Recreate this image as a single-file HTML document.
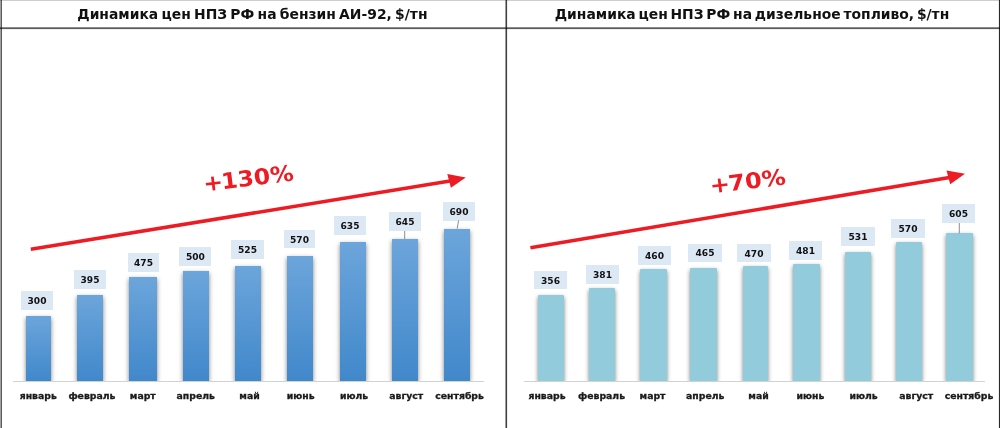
<!DOCTYPE html>
<html lang="ru"><head><meta charset="utf-8"><title>Динамика цен НПЗ РФ</title>
<style>
html,body{margin:0;padding:0;background:#fff;}
body{width:1000px;height:428px;position:relative;overflow:hidden;font-family:"DejaVu Sans","Liberation Sans",sans-serif;font-weight:bold;color:#1a1a1a;}
.ln{position:absolute;}
.fr{mix-blend-mode:multiply;}
.title{position:absolute;top:4.4px;height:20px;line-height:20px;font-size:13.9px;word-spacing:-1.6px;text-align:center;white-space:nowrap;color:#111;}
.bar{position:absolute;box-shadow:0 2px 4.5px rgba(0,0,0,.5);}
.bl{background:linear-gradient(#6ca5db,#4188cb);}
.br{background:#92ccdc;border-radius:1px 1px 0 0;}
.lbl{position:absolute;background:#dce8f4;font-size:9.1px;text-align:center;white-space:nowrap;color:#111;}
.lbl span{display:inline-block;transform:scaleY(.92);transform-origin:50% 50%;}
.mon{position:absolute;top:388.5px;-webkit-text-stroke:.3px #1a1a1a;width:70px;height:14px;line-height:14px;font-size:9.3px;text-align:center;white-space:nowrap;color:#1a1a1a;}
.axis{position:absolute;height:1px;background:#d2d2d2;}
.pct{position:absolute;font-size:22px;color:#ed1c24;white-space:nowrap;line-height:1;transform-origin:50% 50%;}
svg{position:absolute;left:0;top:0;}
#stage{position:absolute;left:0;top:0;width:1000px;height:428px;will-change:transform;}
</style></head><body>
<div id="stage">

<div class="bar bl" style="left:25.6px;width:25.8px;top:315.5px;height:65.7px"></div>
<div class="bar bl" style="left:77px;width:26.0px;top:295px;height:86.2px"></div>
<div class="bar bl" style="left:129.2px;width:27.6px;top:277px;height:104.2px"></div>
<div class="bar bl" style="left:183.2px;width:26.0px;top:271.2px;height:110.0px"></div>
<div class="bar bl" style="left:235px;width:26.2px;top:265.5px;height:115.7px"></div>
<div class="bar bl" style="left:287.3px;width:25.7px;top:255.5px;height:125.7px"></div>
<div class="bar bl" style="left:340px;width:26.0px;top:242px;height:139.2px"></div>
<div class="bar bl" style="left:392px;width:25.9px;top:238.9px;height:142.3px"></div>
<div class="bar bl" style="left:444.3px;width:25.7px;top:228.8px;height:152.4px"></div>
<div class="lbl" style="left:21px;width:32px;top:291px;height:19px;line-height:21px"><span>300</span></div>
<div class="lbl" style="left:74px;width:32px;top:270px;height:19px;line-height:21px"><span>395</span></div>
<div class="lbl" style="left:128px;width:31px;top:253px;height:19px;line-height:21px"><span>475</span></div>
<div class="lbl" style="left:179.3px;width:32.2px;top:247px;height:18.5px;line-height:20px"><span>500</span></div>
<div class="lbl" style="left:231px;width:33px;top:240px;height:19px;line-height:21px"><span>525</span></div>
<div class="lbl" style="left:284px;width:31px;top:230px;height:18px;line-height:20px"><span>570</span></div>
<div class="lbl" style="left:334px;width:32px;top:216px;height:19px;line-height:21px"><span>635</span></div>
<div class="lbl" style="left:389px;width:32px;top:212px;height:19px;line-height:21px"><span>645</span></div>
<div class="lbl" style="left:443px;width:32px;top:202px;height:19px;line-height:21px"><span>690</span></div>
<div class="bar br" style="left:538.1px;width:26.2px;top:294.5px;height:86.7px"></div>
<div class="bar br" style="left:588.8px;width:26.2px;top:288px;height:93.2px"></div>
<div class="bar br" style="left:639.8px;width:27.0px;top:269.1px;height:112.1px"></div>
<div class="bar br" style="left:690.4px;width:26.6px;top:267.6px;height:113.6px"></div>
<div class="bar br" style="left:742.5px;width:25.1px;top:266.4px;height:114.8px"></div>
<div class="bar br" style="left:793px;width:26.6px;top:263.8px;height:117.4px"></div>
<div class="bar br" style="left:844.9px;width:25.9px;top:251.6px;height:129.6px"></div>
<div class="bar br" style="left:895.5px;width:26.5px;top:242.1px;height:139.1px"></div>
<div class="bar br" style="left:946px;width:27.2px;top:233.3px;height:147.9px"></div>
<div class="lbl" style="left:534px;width:33px;top:271px;height:18px;line-height:20px"><span>356</span></div>
<div class="lbl" style="left:586px;width:33px;top:265px;height:19px;line-height:21px"><span>381</span></div>
<div class="lbl" style="left:638px;width:33px;top:246px;height:19px;line-height:21px"><span>460</span></div>
<div class="lbl" style="left:688px;width:34px;top:244px;height:17.5px;line-height:19px"><span>465</span></div>
<div class="lbl" style="left:737px;width:34px;top:244px;height:18px;line-height:20px"><span>470</span></div>
<div class="lbl" style="left:789px;width:33px;top:241px;height:19px;line-height:21px"><span>481</span></div>
<div class="lbl" style="left:841px;width:34px;top:227px;height:19px;line-height:21px"><span>531</span></div>
<div class="lbl" style="left:891px;width:34px;top:219px;height:19px;line-height:21px"><span>570</span></div>
<div class="lbl" style="left:942px;width:33px;top:204px;height:19px;line-height:21px"><span>605</span></div>
<div class="ln" style="left:3px;top:381.2px;width:502px;height:46px;background:#fff"></div>
<div class="ln" style="left:508px;top:381.2px;width:490px;height:46px;background:#fff"></div>
<div class="axis" style="left:12.5px;width:471px;top:381px"></div>
<div class="axis" style="left:524px;width:461px;top:381px"></div>
<div class="mon" style="left:3.25px">январь</div>
<div class="mon" style="left:56.900000000000006px">февраль</div>
<div class="mon" style="left:107.75px">март</div>
<div class="mon" style="left:160.75px">апрель</div>
<div class="mon" style="left:214.5px">май</div>
<div class="mon" style="left:265.75px">июнь</div>
<div class="mon" style="left:319px">июль</div>
<div class="mon" style="left:371.25px">август</div>
<div class="mon" style="left:424.6px">сентябрь</div>
<div class="mon" style="left:512px">январь</div>
<div class="mon" style="left:566.5px">февраль</div>
<div class="mon" style="left:617.5px">март</div>
<div class="mon" style="left:670.25px">апрель</div>
<div class="mon" style="left:723.5px">май</div>
<div class="mon" style="left:775.5px">июнь</div>
<div class="mon" style="left:828.5px">июль</div>
<div class="mon" style="left:881.25px">август</div>
<div class="mon" style="left:934px">сентябрь</div>
<div class="title" style="left:2.4px;width:500px">Динамика цен НПЗ РФ на бензин АИ-92, $/тн</div>
<div class="title" style="left:507px;width:490px;word-spacing:-2.1px">Динамика цен НПЗ РФ на дизельное топливо, $/тн</div>
<div class="pct" id="p1" style="left:206.3px;top:168px;transform:rotate(-7deg) scaleX(1.07)"><span style="margin-right:-1.5px">+</span>130%</div>
<div class="pct" id="p2" style="left:712.6px;top:171.2px;transform:rotate(-7deg) scaleX(1.095)"><span style="margin-right:-1.5px">+</span>70%</div>
<svg width="1000" height="428" viewBox="0 0 1000 428">
<g stroke="#ed1c24" stroke-width="3.5" fill="none"><line x1="30.8" y1="249.3" x2="450" y2="181"/><line x1="530.4" y1="247.8" x2="949.5" y2="177.4"/></g>
<g fill="#ed1c24"><polygon points="447.3,174.1 465.8,177.4 450.9,187.8"/><polygon points="946.5,170.6 965,173.8 950.2,184.3"/></g>
<g stroke="#8c8c8c" stroke-width="1" fill="none"><line x1="404.7" y1="231" x2="404.7" y2="239"/><line x1="458.6" y1="220.4" x2="457.2" y2="228.6"/><line x1="959.3" y1="223" x2="959.3" y2="233.3"/></g>
</svg>
<div class="ln fr" style="left:0;top:0;width:1000px;height:1px;background:#cdcdcd"></div>
<div class="ln fr" style="left:0;top:27px;width:1000px;height:1px;background:#8c8c8c"></div>
<div class="ln fr" style="left:0;top:28px;width:1000px;height:1px;background:#5a5a5a"></div>
<div class="ln fr" style="left:0;top:29px;width:1000px;height:1px;background:#f0f0f0"></div>
<div class="ln fr" style="left:0;top:0;width:1px;height:428px;background:#a0a0a0"></div>
<div class="ln fr" style="left:1px;top:0;width:1px;height:428px;background:#5c5c5c"></div>
<div class="ln fr" style="left:505px;top:0;width:1px;height:428px;background:#9c9c9c"></div>
<div class="ln fr" style="left:506px;top:0;width:1px;height:428px;background:#424242"></div>
<div class="ln fr" style="left:507px;top:0;width:1px;height:428px;background:#ececec"></div>
<div class="ln fr" style="left:998px;top:0;width:1px;height:428px;background:#eeeeee"></div>
<div class="ln fr" style="left:999px;top:0;width:1px;height:428px;background:#2a2a2a"></div>
</div>
</body></html>
